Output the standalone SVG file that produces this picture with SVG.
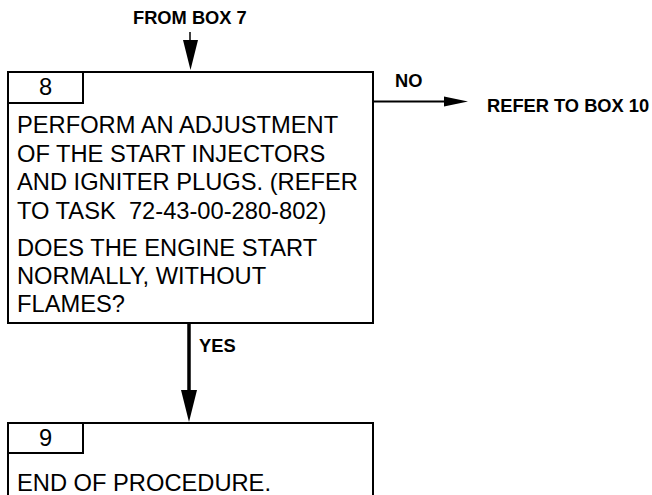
<svg xmlns="http://www.w3.org/2000/svg" width="652" height="495" viewBox="0 0 652 495">
<style>
.box{fill:#fff;stroke:#000;stroke-width:2}
.tab{fill:none;stroke:#000;stroke-width:2}
.t{font-family:"Liberation Sans",Arial,sans-serif;font-size:23.7px;fill:#000;white-space:pre}
.n{font-family:"Liberation Sans",Arial,sans-serif;font-size:23.7px;fill:#000;text-anchor:middle}
.b{font-family:"Liberation Sans",Arial,sans-serif;font-size:18.3px;font-weight:bold;fill:#000}
.ln{stroke:#000;fill:none}
</style>
<rect width="652" height="495" fill="#fff"/>
<g id="box8">
<rect class="box" x="8" y="72" width="365" height="251"/>
<rect class="tab" x="8" y="72" width="75" height="31"/>
<text class="n" x="45.5" y="95">8</text>
<text class="t" x="17" y="133">PERFORM AN ADJUSTMENT</text>
<text class="t" x="17" y="161.5">OF THE START INJECTORS</text>
<text class="t" x="17" y="190">AND IGNITER PLUGS. (REFER</text>
<text class="t" x="17" y="218.5" xml:space="preserve">TO TASK  72-43-00-280-802)</text>
<text class="t" x="17" y="256">DOES THE ENGINE START</text>
<text class="t" x="17" y="284">NORMALLY, WITHOUT</text>
<text class="t" x="17" y="312">FLAMES?</text>
</g>
<g id="box9">
<rect class="box" x="8" y="423" width="365" height="80"/>
<rect class="tab" x="8" y="423" width="75" height="30"/>
<text class="n" x="45.5" y="446">9</text>
<text class="t" x="17" y="491">END OF PROCEDURE.</text>
</g>
<g id="connectors">
<line class="ln" x1="190" y1="32" x2="190" y2="45" stroke-width="1.5"/>
<polygon points="183,40 198,40 190.5,70" fill="#000"/>
<line class="ln" x1="373" y1="101.5" x2="446" y2="101.5" stroke-width="2"/>
<polygon points="444,96.5 468,101.5 444,106.5" fill="#000"/>
<line class="ln" x1="189" y1="323" x2="189" y2="392" stroke-width="3.5"/>
<polygon points="181,390 197,390 189,422" fill="#000"/>
</g>
<g id="labels">
<text class="b" x="133" y="23.5">FROM BOX 7</text>
<text class="b" x="395" y="87">NO</text>
<text class="b" x="487" y="112">REFER TO BOX 10</text>
<text class="b" x="199" y="352">YES</text>
</g>
</svg>
